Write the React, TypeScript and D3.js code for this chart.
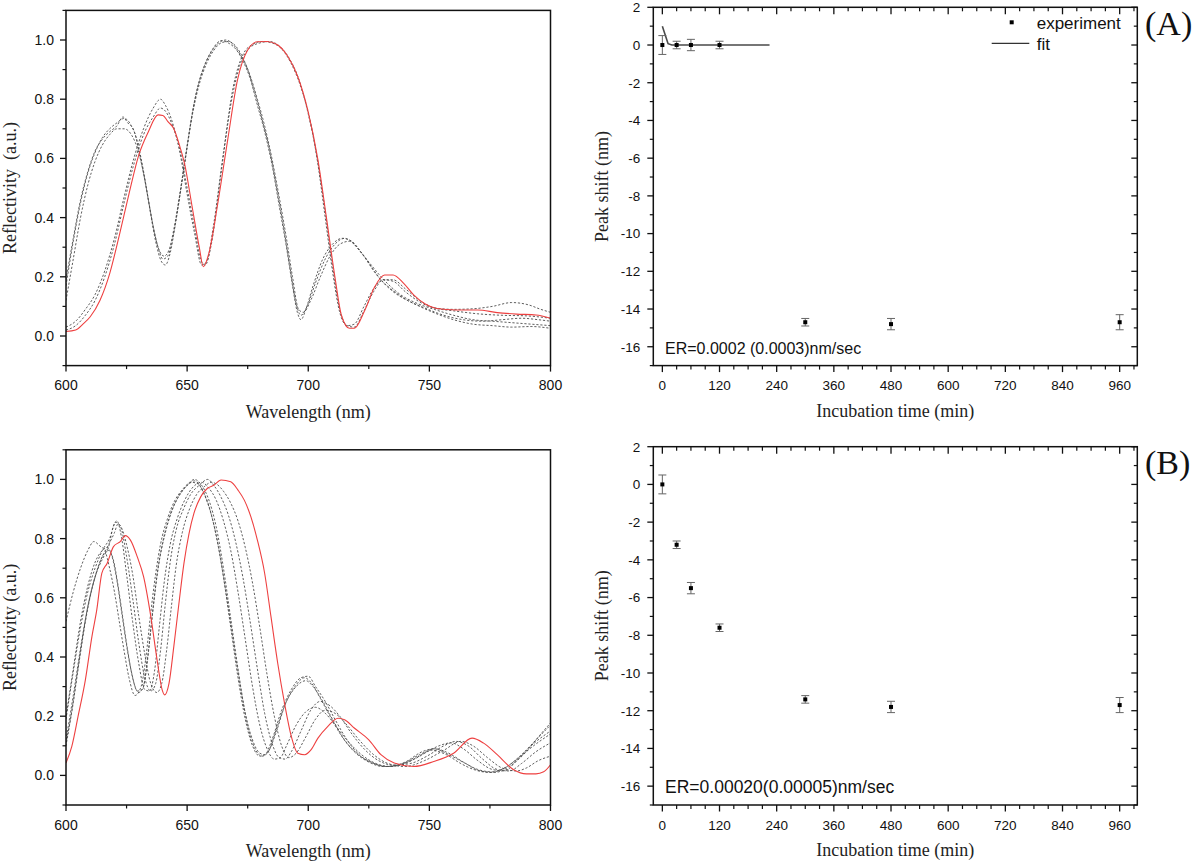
import React from "react";
import * as d3 from "d3";

// ---------- data ----------
const WL_TICKS = [600, 650, 700, 750, 800];
const WL_MINOR = [625, 675, 725, 775];
const R_TICKS = [0, 0.2, 0.4, 0.6, 0.8, 1.0];
const R_MINOR = [-0.1, 0.1, 0.3, 0.5, 0.7, 0.9, 1.1];
const T_TICKS = [0, 120, 240, 360, 480, 600, 720, 840, 960];
const T_MINOR = [30, 60, 90, 150, 180, 210, 270, 300, 330, 390, 420, 450, 510, 540, 570, 630, 660, 690, 750, 780, 810, 870, 900, 930, 990];
const S_TICKS = [-16, -14, -12, -10, -8, -6, -4, -2, 0, 2];
const S_MINOR = [-17, -15, -13, -11, -9, -7, -5, -3, -1, 1];

const TIME = [0, 30, 60, 120, 300, 480, 960];
const SHIFT_A = [0, 0, 0, 0, -14.7, -14.8, -14.7];
const ERR_A = [0.5, 0.2, 0.3, 0.2, 0.2, 0.3, 0.4];
const SHIFT_B = [0, -3.2, -5.5, -7.6, -11.4, -11.8, -11.7];
const ERR_B = [0.5, 0.2, 0.3, 0.2, 0.2, 0.3, 0.4];
const FIT_A: [number, number][] = [[0, 1.0], [12, 0.07], [20, 0.0], [225, 0.0]];

type P = [number, number];

// top-left spectra
const RED_A: P[] = [[600,0.015],[604,0.02],[607,0.04],[610,0.065],[614,0.12],[618,0.21],[622,0.34],[626,0.48],[630,0.61],[634,0.69],[638,0.747],[640,0.745],[642,0.725],[644.5,0.7],[647,0.64],[649,0.58],[652,0.44],[655,0.3],[656.7,0.234],[659,0.28],[662.5,0.44],[666.7,0.66],[670.8,0.865],[675,0.966],[679,0.994],[683,0.995],[687.4,0.983],[691.6,0.944],[695.7,0.876],[699.9,0.76],[704,0.595],[707.5,0.4],[711,0.2],[713.7,0.07],[717,0.026],[719,0.026],[723.4,0.088],[727.5,0.167],[731.5,0.206],[735,0.206],[739.4,0.178],[743.5,0.139],[748.3,0.108],[753,0.093],[761,0.088],[770,0.088],[778,0.079],[786,0.074],[794,0.071],[800,0.06]];
const DASH_A1: P[] = [[600,0.03],[604,0.05],[608,0.09],[612,0.14],[616,0.22],[620,0.33],[624,0.47],[628,0.6],[632,0.7],[636,0.77],[639,0.8],[641,0.78],[644,0.72],[647,0.62],[650,0.48],[653,0.35],[656,0.24],[658,0.25],[661,0.38],[665,0.62],[669,0.84],[673,0.95],[677,0.985],[681,0.995],[685,0.99],[689,0.97],[693,0.92],[697,0.84],[701,0.72],[704,0.58],[707,0.4],[710,0.22],[713,0.08],[716,0.035],[719,0.04],[723,0.1],[727,0.16],[731,0.19],[735,0.185],[740,0.15],[746,0.115],[752,0.095],[760,0.09],[768,0.092],[776,0.1],[784,0.113],[791,0.105],[796,0.09],[800,0.08]];
const DASH_A2: P[] = [[600,0.02],[604,0.035],[608,0.07],[612,0.12],[616,0.2],[620,0.31],[624,0.45],[628,0.58],[632,0.68],[636,0.74],[639,0.77],[641,0.76],[644,0.71],[647,0.63],[650,0.5],[653,0.37],[656,0.25],[657.5,0.24],[660,0.31],[664,0.55],[668,0.78],[672,0.92],[676,0.975],[680,0.99],[684,0.995],[688,0.98],[692,0.94],[696,0.87],[700,0.75],[703.5,0.61],[707,0.42],[710,0.24],[713,0.09],[716,0.035],[719,0.03],[723,0.085],[727,0.15],[731,0.19],[735,0.19],[740,0.16],[746,0.12],[752,0.095],[760,0.085],[770,0.075],[780,0.07],[790,0.068],[800,0.06]];
const DASH_A3: P[] = [[600,0.17],[603,0.32],[606,0.45],[609,0.55],[612,0.62],[615,0.67],[618,0.7],[621,0.72],[624,0.735],[627,0.71],[629,0.67],[631,0.6],[633,0.51],[635,0.41],[637,0.32],[639.5,0.25],[641,0.24],[643,0.28],[645,0.37],[647.5,0.5],[650,0.64],[652.5,0.77],[655,0.86],[658,0.93],[661,0.975],[664,0.998],[667,0.99],[670,0.97],[673,0.93],[676,0.87],[679,0.78],[682,0.69],[685,0.58],[688,0.44],[691,0.3],[693.5,0.17],[695.5,0.08],[697,0.055],[699,0.09],[702,0.17],[706,0.26],[710,0.31],[714,0.33],[718,0.32],[722,0.28],[726,0.235],[730,0.19],[734,0.16],[739,0.13],[746,0.1],[753,0.075],[760,0.055],[768,0.04],[776,0.035],[784,0.03],[792,0.032],[800,0.026]];
const DASH_A4: P[] = [[600,0.12],[603,0.26],[606,0.4],[609,0.51],[612,0.59],[615,0.645],[618,0.68],[621,0.7],[624,0.7],[627,0.68],[630,0.62],[632,0.55],[634,0.46],[636,0.37],[638,0.3],[640.5,0.27],[642.5,0.29],[644.5,0.36],[647,0.48],[649.5,0.61],[652,0.74],[655,0.85],[658,0.92],[661,0.965],[664,0.99],[667,0.995],[670,0.98],[673,0.94],[676,0.88],[679,0.8],[682,0.71],[685,0.6],[688,0.47],[691,0.33],[693.5,0.2],[696,0.09],[698,0.08],[701,0.12],[705,0.2],[709,0.27],[713,0.31],[717,0.32],[721,0.29],[725,0.25],[729,0.21],[733,0.175],[738,0.14],[745,0.11],[752,0.09],[760,0.07],[768,0.055],[776,0.05],[784,0.045],[792,0.04],[800,0.035]];
const DASH_A5: P[] = [[600,0.19],[603,0.33],[606,0.46],[609,0.555],[612,0.625],[615,0.665],[618,0.69],[621,0.71],[623.5,0.74],[625.5,0.72],[628,0.695],[630,0.63],[632,0.55],[634,0.46],[636,0.37],[638,0.3],[640,0.26],[642,0.27],[644,0.33],[646.5,0.45],[649,0.59],[651.5,0.72],[654,0.83],[657,0.91],[660,0.96],[663,0.99],[666,1.0],[669,0.985],[672,0.95],[675,0.9],[678,0.82],[681,0.73],[684,0.63],[687,0.5],[690,0.36],[692.5,0.23],[695,0.11],[697,0.07],[699.5,0.1],[703,0.18],[707,0.26],[711,0.31],[715,0.33],[719,0.31],[723,0.27],[727,0.22],[731,0.18],[735,0.15],[741,0.12],[748,0.095],[756,0.07],[764,0.055],[772,0.05],[780,0.055],[788,0.06],[795,0.055],[800,0.05]];

// bottom-left spectra
const RED_B: P[] = [[600,0.042],[602.4,0.098],[605,0.2],[608,0.323],[610.7,0.469],[612.7,0.559],[614.8,0.683],[617,0.717],[619.6,0.773],[622.4,0.79],[624.5,0.81],[626.6,0.795],[629.4,0.739],[632,0.672],[635,0.537],[637.6,0.39],[639.7,0.289],[640.7,0.272],[642.5,0.31],[644.5,0.435],[646.6,0.58],[648.7,0.717],[650.8,0.818],[652.8,0.885],[655.6,0.941],[658.4,0.97],[661,0.98],[664,0.998],[668,0.992],[671,0.964],[673.6,0.93],[676.3,0.874],[679,0.795],[682,0.683],[684.6,0.537],[687.4,0.379],[690.2,0.244],[693,0.132],[695.7,0.075],[698.5,0.07],[701.2,0.087],[704,0.126],[708,0.165],[712.3,0.193],[715,0.188],[719,0.16],[725,0.12],[730,0.07],[735.5,0.042],[743.5,0.03],[751.8,0.047],[760,0.075],[767.6,0.126],[772.4,0.109],[778,0.07],[784.8,0.019],[790,0.005],[794,0.005],[797.2,0.012],[800,0.036]];
const DASH_B1: P[] = [[600,0.11],[602.5,0.22],[605,0.36],[608,0.52],[611,0.64],[614,0.72],[617,0.77],[620,0.82],[621.5,0.85],[623,0.835],[625,0.78],[627.5,0.68],[630,0.54],[632.5,0.41],[635,0.31],[637.5,0.28],[639.5,0.31],[641.5,0.42],[643.5,0.57],[645.5,0.71],[648,0.82],[651,0.9],[654,0.95],[657,0.975],[660,0.99],[662,0.985],[665,0.96],[668,0.92],[671,0.86],[674,0.77],[677,0.65],[680,0.5],[683,0.34],[686,0.2],[689,0.1],[692,0.06],[695,0.075],[699,0.13],[703,0.19],[707,0.22],[711,0.21],[716,0.17],[721,0.12],[727,0.07],[733,0.04],[740,0.03],[748,0.05],[756,0.085],[763,0.115],[768,0.1],[774,0.06],[780,0.025],[786,0.015],[790,0.025],[795,0.05],[800,0.065]];
const DASH_B2: P[] = [[600,0.19],[603,0.35],[606,0.5],[609,0.62],[612,0.7],[615,0.76],[618,0.8],[620.5,0.855],[622.5,0.84],[625,0.74],[627.5,0.6],[630,0.45],[632.5,0.33],[635,0.285],[637,0.31],[639,0.42],[641,0.58],[643,0.72],[645.5,0.83],[648.5,0.9],[651.5,0.95],[655,0.98],[658.5,1.0],[661,0.98],[664,0.94],[667,0.88],[670,0.79],[673,0.67],[676,0.52],[679,0.36],[682,0.21],[685,0.11],[688,0.06],[690.5,0.055],[693,0.08],[697,0.15],[701,0.22],[705,0.25],[709,0.235],[713,0.2],[718,0.14],[723,0.09],[729,0.05],[735,0.035],[742,0.04],[749,0.065],[756,0.1],[761,0.115],[766,0.1],[772,0.055],[778,0.02],[783,0.015],[788,0.04],[794,0.08],[800,0.11]];
const DASH_B3: P[] = [[600,0.12],[603,0.27],[606,0.43],[609,0.57],[612,0.67],[615,0.74],[617.5,0.77],[619.5,0.84],[621,0.86],[623,0.8],[625,0.68],[627.5,0.52],[630,0.38],[632.5,0.29],[634.5,0.285],[636.5,0.35],[638.5,0.5],[640.5,0.65],[643,0.78],[646,0.87],[649,0.93],[652,0.97],[656,0.99],[659,0.97],[662,0.93],[665,0.86],[668,0.76],[671,0.62],[674,0.46],[677,0.3],[680,0.17],[683,0.09],[686,0.055],[688.5,0.06],[691,0.1],[695,0.17],[699,0.215],[703,0.23],[707,0.21],[712,0.16],[717,0.11],[722,0.07],[728,0.04],[734,0.03],[741,0.045],[748,0.075],[754,0.1],[759,0.11],[764,0.09],[770,0.05],[776,0.02],[781,0.015],[786,0.05],[792,0.1],[800,0.15]];
const DASH_B4: P[] = [[600,0.2],[603,0.36],[606,0.52],[609,0.64],[612,0.72],[615,0.76],[617,0.77],[619,0.74],[621,0.66],[623,0.55],[625,0.44],[627,0.35],[629.5,0.285],[631.5,0.29],[633.5,0.38],[635.5,0.53],[637.5,0.67],[640,0.79],[643,0.88],[646,0.935],[649,0.97],[652,0.99],[654.5,0.985],[657,0.95],[660,0.88],[663,0.77],[666,0.62],[669,0.46],[672,0.3],[675,0.17],[678,0.09],[681,0.065],[683.5,0.08],[687,0.16],[691,0.25],[695,0.3],[699,0.32],[702,0.3],[706,0.25],[710,0.19],[715,0.12],[720,0.075],[726,0.045],[732,0.03],[739,0.04],[746,0.07],[752,0.09],[758,0.075],[764,0.045],[770,0.02],[776,0.012],[782,0.03],[788,0.07],[794,0.12],[800,0.17]];
const DASH_B5: P[] = [[600,0.52],[603,0.62],[606,0.7],[609,0.76],[611.5,0.79],[614,0.775],[616,0.76],[618,0.7],[620,0.62],[622,0.52],[624,0.42],[626,0.33],[628.5,0.27],[631,0.3],[633,0.4],[635,0.55],[637,0.68],[639,0.78],[642,0.87],[645,0.93],[648,0.965],[651,0.99],[653,1.0],[656,0.98],[659,0.93],[662,0.84],[665,0.7],[668,0.53],[671,0.36],[674,0.21],[677,0.12],[680,0.075],[682,0.07],[685,0.12],[689,0.22],[693,0.29],[697,0.33],[700,0.335],[703,0.3],[707,0.25],[711,0.19],[716,0.12],[721,0.07],[727,0.04],[733,0.03],[740,0.045],[747,0.08],[752,0.09],[758,0.07],[765,0.04],[771,0.015],[777,0.01],[783,0.03],[790,0.08],[795,0.13],[800,0.177]];
const DASH_B6: P[] = [[600,0.1],[603,0.25],[606,0.42],[609,0.57],[612,0.67],[615,0.73],[617.5,0.76],[619.5,0.73],[621.5,0.64],[623.5,0.53],[625.5,0.42],[627.5,0.33],[630,0.28],[632,0.3],[634,0.42],[636,0.57],[638,0.7],[641,0.82],[644,0.9],[647,0.95],[650,0.98],[653,0.995],[656,0.97],[659,0.91],[662,0.81],[665,0.67],[668,0.5],[671,0.33],[674,0.19],[677,0.1],[680,0.065],[683,0.075],[686.5,0.14],[690.5,0.24],[694.5,0.3],[698.5,0.33],[701.5,0.31],[705,0.26],[709,0.2],[714,0.13],[719,0.08],[725,0.045],[731,0.03],[738,0.035],[745,0.06],[751,0.085],[757,0.07],[763,0.04],[769,0.018],[775,0.01],[781,0.025],[787,0.06],[793,0.1],[800,0.14]];

const SPEC_A_DASHED = [DASH_A1, DASH_A2, DASH_A3, DASH_A4, DASH_A5];
const SPEC_B_DASHED = [DASH_B1, DASH_B2, DASH_B3, DASH_B4, DASH_B5, DASH_B6];

// ---------- styles ----------
const SANS = "'Liberation Sans', Arial, sans-serif";
const SERIF = "'Liberation Serif', 'Times New Roman', serif";
const RED = "#ee4040";
const PANEL_DY = 439.4;

function SpectrumPanel({ dy, red, dashed, ylabel }: { dy: number; red: P[]; dashed: P[][]; ylabel: string }) {
  const x = d3.scaleLinear().domain([600, 800]).range([66, 550.5]);
  const y = d3.scaleLinear().domain([-0.1, 1.1]).range([365.6 + dy, 10.4 + dy]);
  const line = d3.line<P>().x(d => x(d[0])).y(d => y(d[1])).curve(d3.curveMonotoneX);
  const [x0, x1] = x.range();
  const [yb, yt] = y.range();
  return (
    <g>
      <defs>
        <clipPath id={`clipS${Math.round(dy)}`}>
          <rect x={x0} y={yt} width={x1 - x0} height={yb - yt} />
        </clipPath>
      </defs>
      <g clipPath={`url(#clipS${Math.round(dy)})`}>
        {dashed.map((c, i) => (
          <path key={i} d={line(c) || ""} fill="none" stroke="#4d4d4d" strokeWidth={0.9} strokeDasharray="2.2,1.8" />
        ))}
        <path d={line(red) || ""} fill="none" stroke={RED} strokeWidth={1.1} />
      </g>
      <rect x={x0} y={yt} width={x1 - x0} height={yb - yt} fill="none" stroke="#111" strokeWidth={1.5} />
      {R_TICKS.map(v => (
        <g key={"ry" + v}>
          <line x1={x0 - 6} x2={x0} y1={y(v)} y2={y(v)} stroke="#111" strokeWidth={1.3} />
          <text x={x0 - 12} y={y(v) + 5} textAnchor="end" fontFamily={SANS} fontSize={14} fill="#111">{d3.format(".1f")(v)}</text>
        </g>
      ))}
      {R_MINOR.map(v => (
        <line key={"rm" + v} x1={x0 - 3.5} x2={x0} y1={y(v)} y2={y(v)} stroke="#111" strokeWidth={1.2} />
      ))}
      {WL_TICKS.map(v => (
        <g key={"wx" + v}>
          <line x1={x(v)} x2={x(v)} y1={yb} y2={yb + 6} stroke="#111" strokeWidth={1.3} />
          <text x={x(v)} y={yb + 24.5} textAnchor="middle" fontFamily={SANS} fontSize={14} fill="#111">{v}</text>
        </g>
      ))}
      {WL_MINOR.map(v => (
        <line key={"wm" + v} x1={x(v)} x2={x(v)} y1={yb} y2={yb + 3.5} stroke="#111" strokeWidth={1.2} />
      ))}
      <text x={(x0 + x1) / 2} y={418 + dy} textAnchor="middle" fontFamily={SERIF} fontSize={18} fill="#222">Wavelength (nm)</text>
      <text transform={`translate(15.5, ${(yt + yb) / 2}) rotate(-90)`} textAnchor="middle" fontFamily={SERIF} fontSize={18} fill="#222" style={{ whiteSpace: "pre" }}>{ylabel}</text>
    </g>
  );
}

function ShiftPanel({ dy, shift, err, erText, erSize, fit, tag, legend }: { dy: number; shift: number[]; err: number[]; erText: string; erSize: number; fit?: P[]; tag: string; legend: boolean }) {
  const x = d3.scaleLinear().domain([-19, 997]).range([653.3, 1137.3]);
  const y = d3.scaleLinear().domain([-17, 2]).range([365.6 + dy, 7.3 + dy]);
  const [x0, x1] = x.range();
  const [yb, yt] = y.range();
  const line = d3.line<P>().x(d => x(d[0])).y(d => y(d[1]));
  const pts = TIME.map((t, i) => ({ t, v: shift[i], e: err[i] }));
  return (
    <g>
      {fit && <path d={line(fit) || ""} fill="none" stroke="#4a4a4a" strokeWidth={1.6} />}
      {pts.map((p, i) => (
        <g key={i}>
          <line x1={x(p.t)} x2={x(p.t)} y1={y(p.v + p.e)} y2={y(p.v - p.e)} stroke="#666" strokeWidth={1} />
          <line x1={x(p.t) - 4} x2={x(p.t) + 4} y1={y(p.v + p.e)} y2={y(p.v + p.e)} stroke="#666" strokeWidth={1} />
          <line x1={x(p.t) - 4} x2={x(p.t) + 4} y1={y(p.v - p.e)} y2={y(p.v - p.e)} stroke="#666" strokeWidth={1} />
          <rect x={x(p.t) - 2} y={y(p.v) - 2} width={4} height={4} fill="#000" />
        </g>
      ))}
      <rect x={x0} y={yt} width={x1 - x0} height={yb - yt} fill="none" stroke="#111" strokeWidth={1.5} />
      {S_TICKS.map(v => (
        <g key={"sy" + v}>
          <line x1={x0 - 6} x2={x0} y1={y(v)} y2={y(v)} stroke="#111" strokeWidth={1.3} />
          <line x1={x1 - 6} x2={x1} y1={y(v)} y2={y(v)} stroke="#111" strokeWidth={1.3} />
          <text x={x0 - 13} y={y(v) + 4.8} textAnchor="end" fontFamily={SANS} fontSize={13.5} fill="#111">{String(v)}</text>
        </g>
      ))}
      {S_MINOR.map(v => (
        <g key={"sm" + v}>
          <line x1={x0 - 3.5} x2={x0} y1={y(v)} y2={y(v)} stroke="#111" strokeWidth={1.2} />
          <line x1={x1 - 3.5} x2={x1} y1={y(v)} y2={y(v)} stroke="#111" strokeWidth={1.2} />
        </g>
      ))}
      {T_TICKS.map(v => (
        <g key={"tx" + v}>
          <line x1={x(v)} x2={x(v)} y1={yb} y2={yb + 6.5} stroke="#111" strokeWidth={1.3} />
          <line x1={x(v)} x2={x(v)} y1={yt} y2={yt + 7} stroke="#111" strokeWidth={1.3} />
          <text x={x(v)} y={yb + 24.5} textAnchor="middle" fontFamily={SANS} fontSize={13.5} fill="#111">{v}</text>
        </g>
      ))}
      {T_MINOR.map(v => (
        <g key={"tm" + v}>
          <line x1={x(v)} x2={x(v)} y1={yb} y2={yb + 4} stroke="#111" strokeWidth={1.2} />
          <line x1={x(v)} x2={x(v)} y1={yt} y2={yt + 4} stroke="#111" strokeWidth={1.2} />
        </g>
      ))}
      <text x={x(0) + 2.7} y={yb - 12} fontFamily={SANS} fontSize={erSize} fill="#111">{erText}</text>
      <text x={(x0 + x1) / 2} y={417 + dy} textAnchor="middle" fontFamily={SERIF} fontSize={18} fill="#222">Incubation time (min)</text>
      <text transform={`translate(608, ${(yt + yb) / 2}) rotate(-90)`} textAnchor="middle" fontFamily={SERIF} fontSize={18} fill="#222">Peak shift (nm)</text>
      <text x={1145} y={35 + dy} fontFamily={SERIF} fontSize={34} fill="#111">{tag}</text>
      {legend && (
        <g>
          <rect x={1009.7} y={20.3} width={4} height={4} fill="#000" />
          <text x={1036.7} y={28.5} fontFamily={SANS} fontSize={17} fill="#111">experiment</text>
          <line x1={991.7} x2={1029.3} y1={43.3} y2={43.3} stroke="#333" strokeWidth={1.2} />
          <text x={1036.7} y={50} fontFamily={SANS} fontSize={17} fill="#111">fit</text>
        </g>
      )}
    </g>
  );
}

export default function App() {
  return (
    <svg width={1200} height={863} viewBox="0 0 1200 863" style={{ position: "absolute", left: 0, top: 0, background: "#fff" }}>
      <rect x={0} y={0} width={1200} height={863} fill="#fff" />
      <SpectrumPanel dy={0} red={RED_A} dashed={SPEC_A_DASHED} ylabel={"Reflectivity  (a.u.)"} />
      <SpectrumPanel dy={PANEL_DY} red={RED_B} dashed={SPEC_B_DASHED} ylabel={"Reflectivity (a.u.)"} />
      <ShiftPanel dy={0} shift={SHIFT_A} err={ERR_A} erText="ER=0.0002 (0.0003)nm/sec" erSize={16} fit={FIT_A} tag="(A)" legend={true} />
      <ShiftPanel dy={PANEL_DY} shift={SHIFT_B} err={ERR_B} erText="ER=0.00020(0.00005)nm/sec" erSize={17.5} tag="(B)" legend={false} />
    </svg>
  );
}
